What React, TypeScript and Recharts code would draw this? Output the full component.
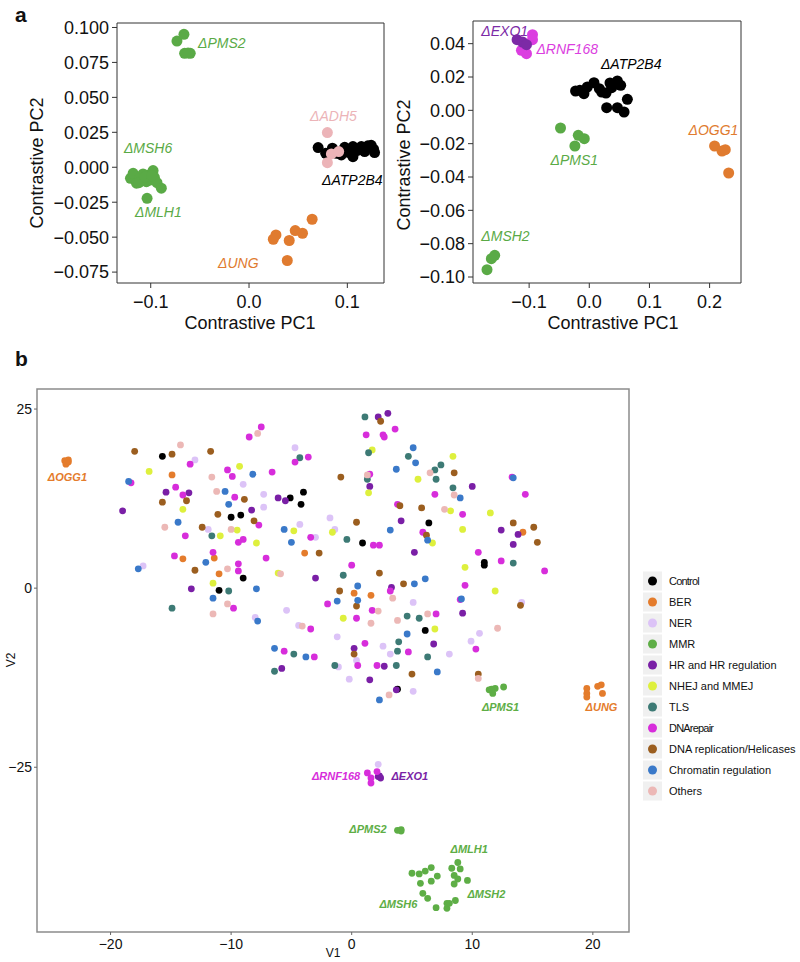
import { ScatterChart, Scatter, XAxis, YAxis, ReferenceArea } from 'recharts';

const FONT = '"Liberation Sans", Arial, Helvetica, sans-serif';

type Pt = [number, number];

// ---- panel a, left: contrastive PCA
const tlPMS2: Pt[] = [[-0.0733, 0.0903], [-0.0662, 0.0951], [-0.0655, 0.0815], [-0.0598, 0.0815], [-0.062, 0.0818]];
const tlMSH6: Pt[] = [
    [-0.1206, -0.0079], [-0.1179, -0.0043], [-0.1145, -0.0114], [-0.1111, -0.0079], [-0.1078, -0.0048],
    [-0.1044, -0.0103], [-0.102, -0.0055], [-0.1003, -0.0091], [-0.0976, -0.0024], [-0.0963, -0.0072],
    [-0.0936, -0.011], [-0.0892, -0.015], [-0.112, -0.011], [-0.106, -0.007], [-0.099, -0.006],
];
const tlMLH1: Pt[] = [[-0.1037, -0.0222]];
const tlATP2B4: Pt[] = [
    [0.0703, 0.0141], [0.078, 0.01], [0.0848, 0.0136], [0.0939, 0.0088], [0.0973, 0.0143], [0.1017, 0.0105],
    [0.1057, 0.0076], [0.1098, 0.0119], [0.1142, 0.0148], [0.1176, 0.0112], [0.1209, 0.0153], [0.1243, 0.0157],
    [0.1267, 0.0129], [0.1277, 0.0105], [0.0889, 0.01], [0.1057, 0.0148],
];
const tlADH5: Pt[] = [[0.0797, 0.0248], [0.0838, 0.0095], [0.0912, 0.0112], [0.0797, 0.0033]];
const tlUNG: Pt[] = [[0.0642, -0.0372], [0.047, -0.0453], [0.0544, -0.0472], [0.0409, -0.0524], [0.0274, -0.0484], [0.0247, -0.0515], [0.0389, -0.0667]];
const tlXTicks = [-0.1, 0, 0.1];
const tlYTicks = [-0.075, -0.05, -0.025, 0, 0.025, 0.05, 0.075, 0.1];
const tlLabels = [
    { x: -0.0519, y: 0.0853, text: 'ΔPMS2', color: '#5aaa46' },
    { x: -0.1272, y: 0.0104, text: 'ΔMSH6', color: '#5aaa46' },
    { x: -0.116, y: -0.0353, text: 'ΔMLH1', color: '#5aaa46' },
    { x: 0.0621, y: 0.0331, text: 'ΔADH5', color: '#ecb4b8' },
    { x: 0.0743, y: -0.0127, text: 'ΔATP2B4', color: '#000000' },
    { x: -0.0315, y: -0.0722, text: 'ΔUNG', color: '#e07b2f' },
];

// ---- panel a, right
const trEXO1: Pt[] = [[-0.12, 0.0424], [-0.1111, 0.041], [-0.1044, 0.0394]];
const trRNF168: Pt[] = [[-0.0944, 0.0454], [-0.0944, 0.0424], [-0.1128, 0.036], [-0.1044, 0.034], [-0.109, 0.0364]];
const trATP2B4: Pt[] = [
    [-0.0228, 0.0116], [-0.0156, 0.012], [-0.0089, 0.01], [-0.0033, 0.014], [0.0078, 0.0166], [0.0167, 0.013],
    [0.0206, 0.011], [0.0278, 0.0104], [0.0344, 0.0164], [0.0372, 0.0136], [0.0467, 0.0176], [0.0522, 0.015],
    [0.0633, 0.0066], [0.0289, 0.0016], [0.0467, 0.0016], [0.0578, -0.001],
];
const trPMS1: Pt[] = [[-0.0478, -0.0106], [-0.0183, -0.015], [-0.0083, -0.017], [-0.0239, -0.0214]];
const trOGG1: Pt[] = [[0.2083, -0.0214], [0.2206, -0.0244], [0.2261, -0.0236], [0.2317, -0.0376]];
const trMSH2: Pt[] = [[-0.17, -0.0956], [-0.1628, -0.089], [-0.1572, -0.087]];
const trXTicks = [-0.1, 0, 0.1, 0.2];
const trYTicks = [-0.1, -0.08, -0.06, -0.04, -0.02, 0, 0.02, 0.04];
const trLabels = [
    { x: -0.1794, y: 0.0446, text: 'ΔEXO1', color: '#7c2aa6' },
    { x: -0.0878, y: 0.034, text: 'ΔRNF168', color: '#db3ee0' },
    { x: 0.0194, y: 0.0246, text: 'ΔATP2B4', color: '#000000' },
    { x: 0.165, y: -0.015, text: 'ΔOGG1', color: '#e07b2f' },
    { x: -0.0644, y: -0.033, text: 'ΔPMS1', color: '#5aaa46' },
    { x: -0.1794, y: -0.0786, text: 'ΔMSH2', color: '#5aaa46' },
];

// ---- panel b: t-SNE of all knockouts
const categories = [
    'Control', 'BER', 'NER', 'MMR', 'HR and HR regulation', 'NHEJ and MMEJ', 'TLS', 'DNArepair',
    'DNA replication/Helicases', 'Chromatin regulation', 'Others',
];
const categoryColors = [
    '#000000', '#e47c2c', '#dcc3f7', '#5eae46', '#7a1fa6', '#def03d', '#3d7a75', '#d72ddb', '#9b5e1f', '#3a79c9', '#ecb8b6',
];
const bControl: Pt[] = [
    [-15.7, 18.4], [-5.1, 12.6], [-4.0, 13.4], [-4.2, 11.7], [-10.0, 9.9], [-9.2, 10.2], [-9.0, 1.4], [-11.0, -0.3],
    [6.4, 9.1], [0.9, 6.3], [11.0, 3.6], [11.0, 3.2], [6.1, -5.9], [3.8, -14.1],
];
const bBER: Pt[] = [
    [-23.8, 17.8], [-23.5, 17.6], [-23.7, 17.3], [-23.5, 17.9], [-14.9, 15.8], [-3.9, 4.9], [-11.4, 4.2], [-14.0, 4.1],
    [-11.0, 2.0], [14.2, 7.8], [0.2, -0.7], [1.6, -1.0],
    [19.5, -14.0], [19.5, -14.7], [19.5, -15.2], [20.4, -13.7], [20.7, -13.5], [20.8, -14.7],
];
const bNER: Pt[] = [
    [-13.0, 17.9], [-4.7, 19.6], [-9.0, 14.5], [-7.3, 13.1], [-7.3, 11.3], [-11.9, 8.2], [-4.3, 8.9], [-3.0, 7.1],
    [-1.8, 9.8], [-1.4, 8.2], [-17.3, 3.1], [-5.4, -3.1], [5.1, -2.0], [14.1, -2.0], [-8.0, -4.1], [-4.4, -5.2],
    [-1.2, -6.8], [-1.1, -11.0], [-0.2, -12.7], [0.4, -10.1], [2.6, -8.1], [3.2, -9.2], [8.1, -9.2], [10.6, -6.3],
    [9.9, -7.4], [5.1, -14.4], [2.2, -24.6],
];
const bMMR: Pt[] = [
    [11.4, -14.2], [11.7, -14.7], [11.9, -14.0], [11.6, -14.1], [12.6, -13.8],
    [3.8, -33.8], [4.1, -33.7], [4.1, -33.9],
    [5.0, -39.8], [5.6, -39.9], [6.1, -39.5], [6.6, -39.0], [7.1, -40.2], [6.6, -40.9], [5.7, -41.2], [5.9, -42.6],
    [6.3, -43.3], [7.0, -44.6], [7.9, -44.7], [7.9, -44.0], [8.1, -44.0], [8.6, -43.6], [8.3, -39.1], [8.8, -38.3],
    [9.0, -39.2], [8.5, -40.1], [8.8, -40.6], [8.5, -41.3], [9.6, -40.8],
];
const bHR: Pt[] = [
    [-15.4, 13.4], [-13.5, 13.3], [-6.1, 12.6], [-5.5, 12.2], [-19.0, 10.8], [-8.3, 10.9], [-3.0, 1.4], [-13.3, -0.1],
    [2.2, 23.9], [3.0, 24.4], [1.5, 14.2], [10.0, 14.2], [4.1, 9.4], [12.4, 8.1], [13.8, 7.5], [13.4, 6.1],
    [5.2, 5.0], [3.3, 0.1], [-5.8, -11.2], [0.2, -8.4], [6.8, -7.8], [9.2, -3.5], [2.7, -10.9], [1.5, -12.8],
    [3.7, -14.2], [2.2, -26.3], [2.4, -26.5], [2.3, -26.2],
];
const bNHEJ: Pt[] = [
    [-16.8, 16.3], [-9.3, 17.0], [-14.0, 11.0], [-10.9, 7.3], [-9.5, 8.1], [-7.9, 6.3], [-4.8, 8.0], [-1.6, 7.8],
    [-6.1, 2.1], [-11.5, 0.7], [1.7, 19.3], [8.4, 18.4], [1.4, 13.3], [5.5, 15.2], [8.2, 10.8], [11.5, 10.5],
    [9.2, 8.2], [6.7, 6.3], [9.4, 2.9], [11.9, -0.4], [-0.7, -4.2], [6.9, -5.7],
];
const bTLS: Pt[] = [
    [-4.3, 18.2], [-11.6, 7.3], [-0.4, 6.8], [-0.7, 1.8], [-10.2, -0.4], [-14.9, -2.8], [1.1, 23.9], [1.4, 18.9],
    [4.7, 18.4], [1.3, 15.2], [6.9, 16.5], [7.4, 17.2], [7.0, 15.2], [8.4, 14.0], [13.4, 3.5], [-4.8, -9.2],
    [-6.4, -11.6], [-1.4, -10.8], [4.6, -3.9], [5.6, -4.2], [3.9, -7.5], [3.8, -8.8], [6.3, -9.6], [3.7, -10.8],
];
const bDNArepair: Pt[] = [
    [-7.5, 22.5], [-8.5, 21.1], [-13.4, 17.3], [-10.3, 16.5], [-9.9, 15.6], [-6.6, 16.2], [-4.7, 17.6], [-3.6, 18.3],
    [-18.3, 14.7], [-14.6, 14.1], [-14.0, 13.0], [-9.7, 12.7], [-7.7, 8.8], [-13.8, 7.3], [-9.0, 6.8], [-9.4, 6.4],
    [-3.4, 7.1], [-11.5, 5.0], [-14.7, 4.5], [-7.1, 4.2], [-9.4, 3.4], [-9.4, 2.4], [-9.8, -2.8], [-2.0, -2.2],
    [1.2, 21.4], [2.6, 21.4], [2.7, 21.1], [3.6, 22.2], [1.5, 15.9], [6.9, 13.1], [13.3, 15.5], [14.4, 13.1],
    [3.8, 11.7], [9.2, 10.3], [5.9, 7.8], [1.8, 6.0], [2.3, 6.0], [10.5, 5.0], [12.4, 3.8], [16.0, 2.4],
    [0.0, 3.2], [3.2, -0.4], [9.4, 0.4], [9.0, -1.6], [-3.4, -5.7], [0.4, -4.2], [-5.6, -8.8], [-3.1, -9.6],
    [0.5, -10.8], [1.7, -3.1], [7.0, -3.6], [1.1, -7.7], [4.7, -8.9], [10.3, -8.5], [2.1, -10.8],
    [1.3, -25.8], [1.6, -26.5], [1.6, -27.2], [2.1, -25.6],
];
const bReplication: Pt[] = [
    [-18.0, 19.1], [-14.9, 18.7], [-11.7, 19.1], [-0.9, 15.5], [-8.9, 12.4], [-15.7, 12.0], [-13.7, 12.2], [-11.1, 10.3],
    [-8.1, 9.4], [-12.4, 8.5], [-2.7, 4.9], [-13.0, 2.5], [-1.0, -0.4], [2.4, 23.3], [8.5, 16.1], [4.0, 11.5],
    [5.8, 11.2], [0.4, 9.2], [6.2, 7.4], [13.4, 9.1], [15.1, 8.5], [15.4, 6.4], [2.3, 2.1], [4.3, 0.6],
    [14.0, -2.4], [0.4, -2.5], [0.2, -9.2], [5.0, -12.0], [10.5, -12.0],
];
const bChromatin: Pt[] = [
    [-8.2, 15.9], [-18.5, 14.9], [-10.5, 13.5], [-10.2, 11.7], [-14.4, 9.2], [-5.6, 8.2], [-5.0, 6.4], [-12.1, 3.6],
    [-17.7, 2.7], [-7.9, -0.1], [-11.5, -1.4], [-1.2, -1.8], [5.1, 19.6], [5.3, 17.5], [3.7, 16.6], [9.0, 12.6],
    [13.4, 15.4], [3.2, 8.1], [6.3, 6.7], [0.5, 0.3], [0.5, -1.7], [5.2, 0.6], [6.1, 1.3], [9.1, -1.5],
    [-7.8, -4.6], [-6.4, -8.4], [-3.8, -9.6], [4.6, -6.4], [7.1, -11.7], [2.3, -15.6],
];
const bOthers: Pt[] = [
    [-14.2, 20.0], [-7.8, 21.6], [-11.6, 15.5], [-11.2, 13.5], [-15.5, 8.5], [-10.0, 8.2], [-10.3, 2.7], [-5.9, 2.0],
    [-10.3, -2.2], [1.3, 15.8], [6.5, 16.1], [8.5, 13.0], [7.7, 11.0], [3.4, -1.4], [-11.5, -3.6], [-4.1, -5.3],
    [2.2, -3.2], [1.6, -4.9], [3.8, -4.5], [6.3, -3.6], [12.1, -5.6], [10.5, -12.6], [3.1, -14.9],
];
const bSeries = [bControl, bBER, bNER, bMMR, bHR, bNHEJ, bTLS, bDNArepair, bReplication, bChromatin, bOthers];
const bXTicks = [-20, -10, 0, 10, 20];
const bYTicks = [-25, 0, 25];
const bLabels = [
    { x: -25.2, y: 14.9, text: 'ΔOGG1', color: '#e47c2c' },
    { x: 10.8, y: -17.2, text: 'ΔPMS1', color: '#5eae46' },
    { x: 19.4, y: -17.2, text: 'ΔUNG', color: '#e47c2c' },
    { x: -3.3, y: -26.8, text: 'ΔRNF168', color: '#d72ddb' },
    { x: 3.3, y: -26.8, text: 'ΔEXO1', color: '#7a1fa6' },
    { x: -0.2, y: -34.2, text: 'ΔPMS2', color: '#5eae46' },
    { x: 8.2, y: -37.0, text: 'ΔMLH1', color: '#5eae46' },
    { x: 9.6, y: -43.2, text: 'ΔMSH2', color: '#5eae46' },
    { x: 2.3, y: -44.6, text: 'ΔMSH6', color: '#5eae46' },
];

const toPts = (arr: Pt[]) => arr.map(([x, y]) => ({ x, y }));
const minus = (s: string) => s.replace('-', '\u2212');

const dot = (color: string, r: number) => (props: any) => (
    <circle cx={props.cx} cy={props.cy} r={r} fill={color} />
);

const labelShape = (size: number, bold: boolean) => (props: any) => (
    <text
        x={props.cx}
        y={props.cy}
        fill={props.payload.color}
        fontSize={size}
        fontStyle="italic"
        fontWeight={bold ? 'bold' : 'normal'}
        fontFamily={FONT}
    >
        {props.payload.text}
    </text>
);

const topTick = { fontSize: 18, fill: '#111', fontFamily: FONT };

function TopLeft() {
    const xd: [number, number] = [-0.1343, 0.1373];
    const yd: [number, number] = [-0.0828, 0.1032];
    return (
        <ScatterChart width={400} height={340} margin={{ top: 23, right: 16, bottom: 27, left: 57 }}>
            <XAxis type="number" dataKey="x" domain={xd} ticks={tlXTicks} allowDataOverflow height={30}
                axisLine={false} tickLine={{ stroke: '#333' }} tickSize={5} tickMargin={7} tick={topTick}
                tickFormatter={(v: number) => minus(v.toFixed(1))} />
            <YAxis type="number" dataKey="y" domain={yd} ticks={tlYTicks} allowDataOverflow width={60}
                axisLine={false} tickLine={{ stroke: '#333' }} tickSize={5} tickMargin={3} tick={topTick}
                tickFormatter={(v: number) => minus(v.toFixed(3))} />
            <ReferenceArea x1={xd[0]} x2={xd[1]} y1={yd[0]} y2={yd[1]} fill="none" stroke="#333" strokeWidth={1} ifOverflow="visible" />
            <Scatter data={toPts(tlPMS2)} shape={dot('#5aaa46', 5.5)} isAnimationActive={false} />
            <Scatter data={toPts(tlMSH6)} shape={dot('#5aaa46', 5.5)} isAnimationActive={false} />
            <Scatter data={toPts(tlMLH1)} shape={dot('#5aaa46', 5.5)} isAnimationActive={false} />
            <Scatter data={toPts(tlATP2B4)} shape={dot('#000000', 5.5)} isAnimationActive={false} />
            <Scatter data={toPts(tlADH5)} shape={dot('#ecb4b8', 5.5)} isAnimationActive={false} />
            <Scatter data={toPts(tlUNG)} shape={dot('#e07b2f', 5.5)} isAnimationActive={false} />
            <Scatter data={tlLabels} shape={labelShape(14, false)} isAnimationActive={false} />
        </ScatterChart>
    );
}

function TopRight() {
    const xd: [number, number] = [-0.1933, 0.2522];
    const yd: [number, number] = [-0.1036, 0.0536];
    return (
        <ScatterChart width={400} height={340} margin={{ top: 21, right: 59, bottom: 27, left: 13 }}>
            <XAxis type="number" dataKey="x" domain={xd} ticks={trXTicks} allowDataOverflow height={30}
                axisLine={false} tickLine={{ stroke: '#333' }} tickSize={5} tickMargin={7} tick={topTick}
                tickFormatter={(v: number) => minus(v.toFixed(1))} />
            <YAxis type="number" dataKey="y" domain={yd} ticks={trYTicks} allowDataOverflow width={60}
                axisLine={false} tickLine={{ stroke: '#333' }} tickSize={5} tickMargin={3} tick={topTick}
                tickFormatter={(v: number) => minus(v.toFixed(2))} />
            <ReferenceArea x1={xd[0]} x2={xd[1]} y1={yd[0]} y2={yd[1]} fill="none" stroke="#333" strokeWidth={1} ifOverflow="visible" />
            <Scatter data={toPts(trRNF168)} shape={dot('#db3ee0', 5.5)} isAnimationActive={false} />
            <Scatter data={toPts(trEXO1)} shape={dot('#7c2aa6', 5.5)} isAnimationActive={false} />
            <Scatter data={toPts(trATP2B4)} shape={dot('#000000', 5.5)} isAnimationActive={false} />
            <Scatter data={toPts(trPMS1)} shape={dot('#5aaa46', 5.5)} isAnimationActive={false} />
            <Scatter data={toPts(trOGG1)} shape={dot('#e07b2f', 5.5)} isAnimationActive={false} />
            <Scatter data={toPts(trMSH2)} shape={dot('#5aaa46', 5.5)} isAnimationActive={false} />
            <Scatter data={trLabels} shape={labelShape(14, false)} isAnimationActive={false} />
        </ScatterChart>
    );
}

function Bottom() {
    const xd: [number, number] = [-26.1, 23.0];
    const yd: [number, number] = [-48.0, 27.8];
    const tick = { fontSize: 14, fill: '#111', fontFamily: FONT };
    return (
        <ScatterChart width={640} height={592} margin={{ top: 19, right: 11, bottom: 10, left: 7 }}>
            <XAxis type="number" dataKey="x" domain={xd} ticks={bXTicks} allowDataOverflow height={20}
                axisLine={false} tickLine={{ stroke: '#666' }} tickSize={3} tickMargin={4} tick={tick}
                tickFormatter={(v: number) => minus(String(v))} />
            <YAxis type="number" dataKey="y" domain={yd} ticks={bYTicks} allowDataOverflow width={30}
                axisLine={false} tickLine={{ stroke: '#666' }} tickSize={3} tickMargin={2} tick={tick}
                tickFormatter={(v: number) => minus(String(v))} />
            <ReferenceArea x1={xd[0]} x2={xd[1]} y1={yd[0]} y2={yd[1]} fill="none" stroke="#8c8c8c" strokeWidth={1.5} ifOverflow="visible" />
            {bSeries.map((s, i) => (
                <Scatter key={categories[i]} name={categories[i]} data={toPts(s)}
                    shape={dot(categoryColors[i], 3.4)} isAnimationActive={false} />
            ))}
            <Scatter data={bLabels} shape={labelShape(11, true)} isAnimationActive={false} />
        </ScatterChart>
    );
}

function Overlay() {
    const title = { fontFamily: FONT, fill: '#111' };
    return (
        <svg width={800} height={962} style={{ position: 'absolute', left: 0, top: 0, pointerEvents: 'none' }}>
            <text x={15} y={22} fontSize={21} fontWeight="bold" {...title}>a</text>
            <text x={15} y={366} fontSize={21} fontWeight="bold" {...title}>b</text>
            <text x={250} y={329} fontSize={18} textAnchor="middle" {...title}>Contrastive PC1</text>
            <text x={613} y={329} fontSize={18} textAnchor="middle" {...title}>Contrastive PC1</text>
            <text transform="translate(43,163) rotate(-90)" fontSize={18} textAnchor="middle" {...title}>Contrastive PC2</text>
            <text transform="translate(410,165) rotate(-90)" fontSize={18} textAnchor="middle" {...title}>Contrastive PC2</text>
            <text x={333} y={957} fontSize={12} textAnchor="middle" {...title}>V1</text>
            <text transform="translate(15,660) rotate(-90)" fontSize={12} textAnchor="middle" {...title}>V2</text>
            {categories.map((c, i) => {
                const cy = 581 + i * 21;
                return (
                    <g key={c}>
                        <rect x={643} y={cy - 9.5} width={19} height={19} fill="#f0f0f0" />
                        <circle cx={652.5} cy={cy} r={4.5} fill={categoryColors[i]} />
                        <text x={669} y={cy + 4} fontSize={11} {...title}
                            letterSpacing={c === 'Control' || c === 'DNArepair' ? -0.8 : 0}>{c}</text>
                    </g>
                );
            })}
        </svg>
    );
}

export default function App() {
    return (
        <div style={{ position: 'absolute', left: 0, top: 0, width: 800, height: 962, background: '#fff' }}>
            <div style={{ position: 'absolute', left: 0, top: 0 }}><TopLeft /></div>
            <div style={{ position: 'absolute', left: 400, top: 0 }}><TopRight /></div>
            <div style={{ position: 'absolute', left: 0, top: 370 }}><Bottom /></div>
            <Overlay />
        </div>
    );
}
